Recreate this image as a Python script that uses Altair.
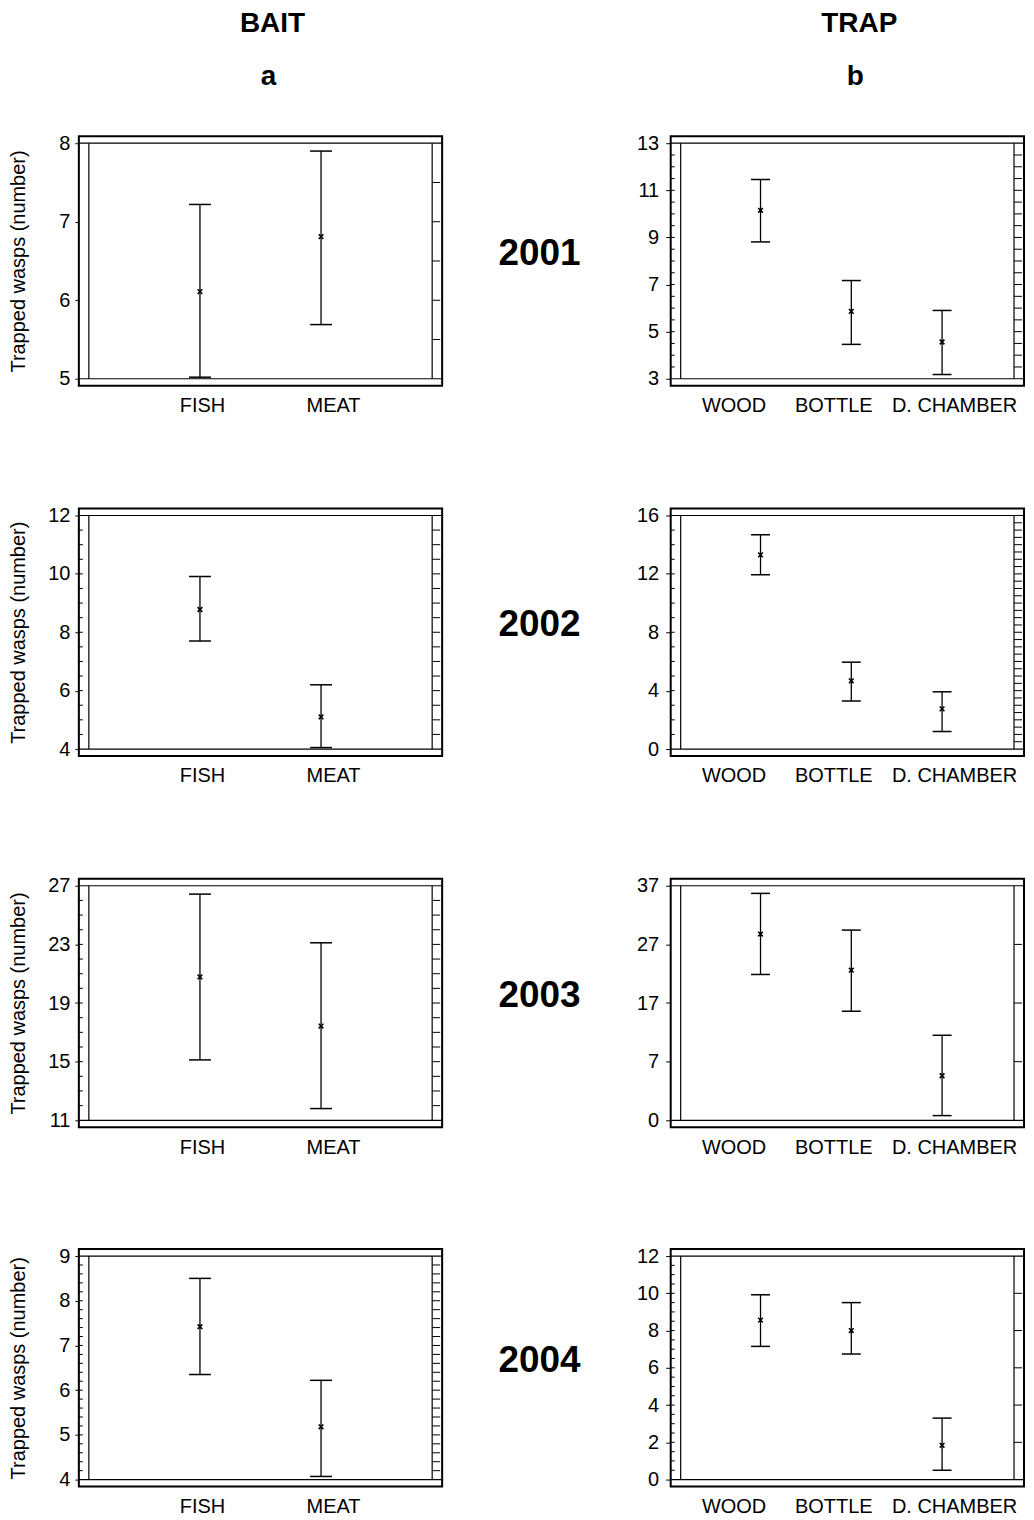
import altair as alt
import pandas as pd

# ---------------- data ----------------
years = ["2001", "2002", "2003", "2004"]
header_titles = ["BAIT", "TRAP"]
header_letters = ["a", "b"]
bait_cats = ["FISH", "MEAT"]
trap_cats = ["WOOD", "BOTTLE", "D. CHAMBER"]
y_title = "Trapped wasps (number)"

# BAIT (mean, lower, upper)
bait_mean_2001 = [6.11, 6.81]
bait_low_2001 = [5.02, 5.69]
bait_high_2001 = [7.22, 7.90]

bait_mean_2002 = [8.78, 5.10]
bait_low_2002 = [7.70, 4.05]
bait_high_2002 = [9.91, 6.20]

bait_mean_2003 = [20.78, 17.43]
bait_low_2003 = [15.12, 11.80]
bait_high_2003 = [26.43, 23.11]

bait_mean_2004 = [7.42, 5.18]
bait_low_2004 = [6.35, 4.07]
bait_high_2004 = [8.50, 6.22]

# TRAP (mean, lower, upper)
trap_mean_2001 = [10.15, 5.86, 4.56]
trap_low_2001 = [8.81, 4.46, 3.18]
trap_high_2001 = [11.46, 7.17, 5.90]

trap_mean_2002 = [13.30, 4.67, 2.75]
trap_low_2002 = [11.94, 3.29, 1.20]
trap_high_2002 = [14.68, 5.95, 3.92]

trap_mean_2003 = [28.76, 22.60, 4.60]
trap_low_2003 = [21.87, 15.60, -2.20]
trap_high_2003 = [35.70, 29.44, 11.50]

trap_mean_2004 = [8.56, 8.00, 1.84]
trap_low_2004 = [7.15, 6.74, 0.50]
trap_high_2004 = [9.92, 9.50, 3.30]

# axis tick values
bait_ticks_2001 = [5, 6, 7, 8]
bait_ticks_2002 = [4, 6, 8, 10, 12]
bait_ticks_2003 = [11, 15, 19, 23, 27]
bait_ticks_2004 = [4, 5, 6, 7, 8, 9]
trap_ticks_2001 = [3, 5, 7, 9, 11, 13]
trap_ticks_2002 = [0, 4, 8, 12, 16]
trap_ticks_2003 = [-3, 7, 17, 27, 37]
trap_ticks_2004 = [0, 2, 4, 6, 8, 10, 12]

# ---------------- layout constants ----------------
FONT = "Liberation Sans"
BAIT_W = 364
TRAP_W = 354
YEAR_W = 191
ROW_H = [250, 248, 249, 238]
X_MARK = "M-1,-1L1,1M-1,1L1,-1"

bait_label_offset = {"condition": {"test": "datum.value == 'MEAT'", "value": 12}, "value": 2}
trap_label_offset = {
    "condition": [
        {"test": "datum.value == 'WOOD'", "value": -27},
        {"test": "datum.value == 'BOTTLE'", "value": -18},
    ],
    "value": 12,
}


def minor_values(lo, hi, step):
    vals = []
    v = lo + step
    while v < hi - 1e-9:
        vals.append(round(v, 6))
        v += step
    return vals


def head_layers(title, letter, width):
    df = pd.DataFrame({"t": [title], "l": [letter]})
    t1 = alt.Chart(df).mark_text(
        font=FONT, fontSize=28, fontWeight="bold", color="black",
        align="center", baseline="alphabetic").encode(
        x=alt.value(width / 2 + 12), y=alt.value(-104), text="t:N")
    t2 = alt.Chart(df).mark_text(
        font=FONT, fontSize=28, fontWeight="bold", color="black",
        align="center", baseline="alphabetic").encode(
        x=alt.value(width / 2 + 8), y=alt.value(-51), text="l:N")
    return [t1, t2]


def panel(cats, mean, low, high, ticks, width, height, title, xpad, xalign,
          label_offset, cap, left_step, right_step, label_expr=None,
          tick_size=4, label_pad=5, min_extent=30, header=None):
    ymin, ymax = ticks[0], ticks[-1]
    pad = (ymax - ymin) * 7.0 / (height - 14)
    yscale = alt.Scale(domain=[ymin - pad, ymax + pad], nice=False, zero=False)
    axis_kw = dict(values=ticks, tickSize=tick_size, labelPadding=label_pad,
                   domain=False, grid=False, minExtent=min_extent,
                   maxExtent=min_extent, labelFontSize=20, labelColor="black",
                   tickColor="black", tickWidth=1)
    if title:
        axis_kw.update(title=title, titleFontSize=20, titlePadding=20,
                       titleFontWeight="normal", titleColor="black")
    else:
        axis_kw["title"] = None
    if label_expr:
        axis_kw["labelExpr"] = label_expr
    yaxis = alt.Axis(**axis_kw)
    xaxis = alt.Axis(title=None, labelAngle=0, labelFontSize=20,
                     labelColor="black", ticks=False, tickSize=0,
                     domain=False, grid=False, labelPadding=10,
                     labelOffset=label_offset)
    xscale = alt.Scale(type="point", domain=cats, padding=xpad, align=xalign)

    df = pd.DataFrame({"cat": cats, "mean": mean, "low": low, "high": high})
    base = alt.Chart(df)
    X = alt.X("cat:N", scale=xscale, axis=xaxis, sort=cats)

    def Y(f):
        return alt.Y(f + ":Q", scale=yscale, axis=yaxis)

    bars = base.mark_rule(color="black", strokeWidth=1.3).encode(
        x=X, y=Y("low"), y2="high:Q")
    cap_lo = base.mark_tick(color="black", size=cap, thickness=1.5,
                            opacity=1).encode(x=X, y=Y("low"))
    cap_hi = base.mark_tick(color="black", size=cap, thickness=1.5,
                            opacity=1).encode(x=X, y=Y("high"))
    pts = base.mark_point(shape=X_MARK, filled=False, size=22,
                          strokeWidth=1.6, color="black", opacity=1).encode(
        x=X, y=Y("mean"))

    frame_h = alt.Chart(pd.DataFrame({"v": [ymin, ymax]})).mark_rule(
        color="black", strokeWidth=1.2).encode(y=Y("v"))
    vdf = pd.DataFrame({"v1": [ymin], "v2": [ymax]})
    frame_l = alt.Chart(vdf).mark_rule(color="black", strokeWidth=1.2).encode(
        x=alt.value(10), y=Y("v1"), y2="v2:Q")
    frame_r = alt.Chart(vdf).mark_rule(color="black", strokeWidth=1.2).encode(
        x=alt.value(width - 10), y=Y("v1"), y2="v2:Q")

    layers = [frame_h, frame_l, frame_r]
    if right_step:
        rdf = pd.DataFrame({"v": minor_values(ymin, ymax, right_step)})
        layers.append(alt.Chart(rdf).mark_rule(color="black", strokeWidth=1).encode(
            x=alt.value(width - 10), x2=alt.value(width - 2), y=Y("v")))
    if left_step:
        ldf = pd.DataFrame({"v": minor_values(ymin, ymax, left_step)})
        layers.append(alt.Chart(ldf).mark_rule(color="black", strokeWidth=1).encode(
            x=alt.value(0), x2=alt.value(4), y=Y("v")))
    layers += [bars, cap_lo, cap_hi, pts]
    if header:
        layers += head_layers(header[0], header[1], width)
    return alt.layer(*layers).properties(
        width=width, height=height,
        view=alt.ViewBackground(stroke="black", strokeWidth=2))


def bait_panel(mean, low, high, ticks, height, left_step, right_step, header=None):
    return panel(bait_cats, mean, low, high, ticks, BAIT_W, height, y_title,
                 1.08, 0.5, bait_label_offset, 22, left_step, right_step,
                 tick_size=4, label_pad=5, min_extent=30, header=header)


def trap_panel(mean, low, high, ticks, height, left_step, right_step,
               label_expr=None, header=None):
    return panel(trap_cats, mean, low, high, ticks, TRAP_W, height, None,
                 0.946, 0.523, trap_label_offset, 19, left_step, right_step,
                 label_expr=label_expr, tick_size=5, label_pad=7, min_extent=34,
                 header=header)


def year_chart(year, height):
    return alt.Chart(pd.DataFrame({"year": [year]})).mark_text(
        font=FONT, fontSize=37, fontWeight="bold", color="black",
        align="center", baseline="middle", dy=-7).encode(
        x=alt.value(YEAR_W / 2), y=alt.value(height / 2), text="year:N"
    ).properties(width=YEAR_W, height=height)


def row(bait, trap, year, height):
    return alt.hconcat(bait, year_chart(year, height), trap, spacing=0)


row1 = row(bait_panel(bait_mean_2001, bait_low_2001, bait_high_2001, bait_ticks_2001, ROW_H[0], None, 0.5,
                      header=(header_titles[0], header_letters[0])),
           trap_panel(trap_mean_2001, trap_low_2001, trap_high_2001, trap_ticks_2001, ROW_H[0], 0.5, 0.5,
                      header=(header_titles[1], header_letters[1])),
           years[0], ROW_H[0])
row2 = row(bait_panel(bait_mean_2002, bait_low_2002, bait_high_2002, bait_ticks_2002, ROW_H[1], 0.5, 0.5),
           trap_panel(trap_mean_2002, trap_low_2002, trap_high_2002, trap_ticks_2002, ROW_H[1], 1, 0.5),
           years[1], ROW_H[1])
row3 = row(bait_panel(bait_mean_2003, bait_low_2003, bait_high_2003, bait_ticks_2003, ROW_H[2], 1, 1),
           trap_panel(trap_mean_2003, trap_low_2003, trap_high_2003, trap_ticks_2003, ROW_H[2], None, 10,
                      label_expr="datum.value < 0 ? '0' : datum.label"),
           years[2], ROW_H[2])
row4 = row(bait_panel(bait_mean_2004, bait_low_2004, bait_high_2004, bait_ticks_2004, ROW_H[3], 0.2, 0.2),
           trap_panel(trap_mean_2004, trap_low_2004, trap_high_2004, trap_ticks_2004, ROW_H[3], 0.5, 2),
           years[3], ROW_H[3])

chart = alt.vconcat(row1, row2, row3, row4, spacing=87).properties(
    padding=0
).configure(font=FONT).configure_view(strokeWidth=0).configure_axis(
    labelFont=FONT, titleFont=FONT)

chart.save("out.html", embed_options={"renderer": "svg", "actions": False})
